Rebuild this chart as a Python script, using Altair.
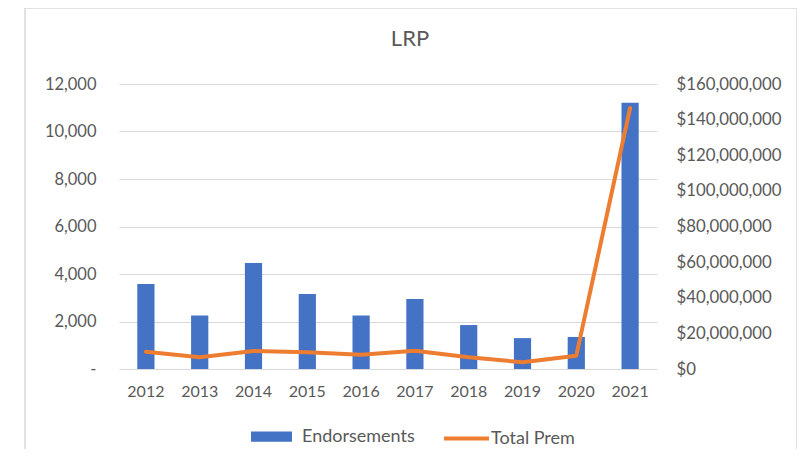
import altair as alt
import pandas as pd

years = ["2012", "2013", "2014", "2015", "2016", "2017", "2018", "2019", "2020", "2021"]
endorsements = [3580, 2250, 4460, 3160, 2250, 2950, 1850, 1300, 1350, 11210]
total_prem = [9700000, 6600000, 10100000, 9400000, 8000000, 10300000, 6600000, 3800000, 7500000, 146500000]

left_ticks = [0, 2000, 4000, 6000, 8000, 10000, 12000]
right_ticks = [0, 20000000, 40000000, 60000000, 80000000, 100000000, 120000000, 140000000, 160000000]

df = pd.DataFrame({"Year": years, "Endorsements": endorsements, "TotalPrem": total_prem})

FONT = "Lato"
GRAY = "#595959"
GRID = "#d9d9d9"
BLUE = "#4472C4"
ORANGE = "#ED7D31"

x = alt.X(
    "Year:N",
    sort=years,
    scale=alt.Scale(paddingInner=0.68, paddingOuter=0.34),
    axis=alt.Axis(title=None, labelAngle=0, ticks=False, domain=False, labelPadding=14,
                  labelFontSize=16, labelColor=GRAY, labelFont=FONT, grid=False),
)

frame = alt.Chart(pd.DataFrame({"a": [0]})).mark_rect(
    fillOpacity=0, stroke=GRID, strokeWidth=1.5
).encode(
    x=alt.value(-94), x2=alt.value(678), y=alt.value(-76), y2=alt.value(400)
)

bars = alt.Chart(df).transform_calculate(s1="'Endorsements'").mark_bar().encode(
    x=x,
    y=alt.Y(
        "Endorsements:Q",
        scale=alt.Scale(domain=[0, 12000], nice=False),
        axis=alt.Axis(title=None, values=left_ticks,
                      labelExpr="datum.value == 0 ? '-\u00a0\u00a0\u00a0' : format(datum.value, ',')",
                      ticks=False, domain=False, grid=True, gridColor=GRID, gridWidth=1,
                      labelPadding=23, labelFontSize=16.5, labelColor=GRAY, labelFont=FONT),
    ),
    color=alt.Color(
        "s1:N",
        scale=alt.Scale(domain=["Endorsements"], range=[BLUE]),
        legend=alt.Legend(orient="none", legendX=132, legendY=332, title=None, padding=0,
                          symbolType="M-1,-0.25L1,-0.25L1,0.25L-1,0.25Z", symbolSize=1681,
                          symbolStrokeWidth=0,
                          labelOffset=10, labelFontSize=18, labelColor=GRAY, labelFont=FONT),
    ),
)

line = alt.Chart(df).transform_calculate(s2="'Total Prem'").mark_line(
    strokeWidth=4, strokeCap="round", strokeJoin="round"
).encode(
    x=x,
    y=alt.Y(
        "TotalPrem:Q",
        scale=alt.Scale(domain=[0, 160000000], nice=False),
        axis=alt.Axis(title=None, orient="right", values=right_ticks, format="$,d",
                      ticks=False, domain=False, grid=False,
                      labelPadding=19, labelFontSize=16.8, labelColor=GRAY, labelFont=FONT),
    ),
    stroke=alt.Stroke(
        "s2:N",
        scale=alt.Scale(domain=["Total Prem"], range=[ORANGE]),
        legend=alt.Legend(orient="none", legendX=323, legendY=330, title=None, padding=0,
                          symbolType="stroke", symbolSize=2025, symbolStrokeWidth=4,
                          labelOffset=0, labelFontSize=18, labelColor=GRAY, labelFont=FONT),
    ),
)

chart = alt.layer(frame, bars, line).resolve_scale(
    y="independent", color="independent", stroke="independent"
).properties(
    width=538,
    height=285,
    title=alt.TitleParams("LRP", fontSize=22, font=FONT, color=GRAY, fontWeight="normal",
                          offset=-44, dx=22),
    padding={"left": 111, "top": 76, "right": 140, "bottom": 80},
    autosize=alt.AutoSizeParams(type="none"),
).configure_view(stroke=None)

chart.save("out.html", embed_options={"renderer": "svg", "actions": False})
